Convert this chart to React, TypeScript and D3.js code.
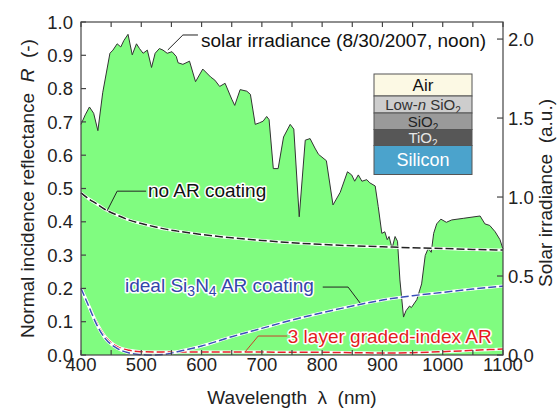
import * as d3 from 'd3'

// solar spectrum (right axis, a.u.)
const SOLAR_NM = [
  400, 407, 414, 421, 428, 436, 448, 453, 460, 466, 471, 478, 485, 492, 497, 503, 510, 517, 523, 530,
  536, 543, 551, 558, 561, 569, 580, 590, 602, 615, 622, 630, 639, 650, 655, 664, 675, 681, 689, 696,
  702, 708, 712, 719, 727, 736, 747, 753, 762, 772, 780, 788, 794, 807, 818, 830, 842, 849, 854, 860,
  866, 874, 879, 888, 893, 899, 904, 908, 911, 916, 921, 925, 929, 935, 939, 945, 948, 957, 965, 971,
  976, 981, 985, 990, 997, 1006, 1015, 1034, 1062, 1070, 1078, 1087, 1095, 1100,
]
const SOLAR_IRR = [
  1.46, 1.52, 1.57, 1.53, 1.42, 1.66, 1.91, 1.93, 1.97, 1.95, 1.99, 2.03, 1.9, 1.97, 1.94, 1.91, 1.93, 1.82, 1.91, 1.94,
  1.93, 1.91, 1.92, 1.89, 1.85, 1.84, 1.86, 1.73, 1.81, 1.76, 1.74, 1.7, 1.72, 1.62, 1.58, 1.68, 1.67, 1.65, 1.46, 1.47,
  1.48, 1.51, 1.49, 1.18, 1.18, 1.38, 1.46, 1.43, 0.875, 1.36, 1.37, 1.31, 1.27, 1.23, 0.95, 1.03, 1.16, 1.14, 1.1, 1.14,
  1.1, 1.11, 1.09, 1.07, 0.94, 0.77, 0.78, 0.73, 0.75, 0.675, 0.75, 0.72, 0.475, 0.24, 0.28, 0.31, 0.3, 0.35, 0.45, 0.63,
  0.675, 0.65, 0.77, 0.83, 0.86, 0.84, 0.855, 0.865, 0.88, 0.83, 0.82, 0.78, 0.73, 0.67,
]

// reflectance curves (left axis)
const REFL_NM = [400, 412, 425, 440, 460, 480, 500, 520, 540, 560, 600, 650, 700, 750, 800, 850, 900, 950, 1000, 1050, 1100]
const NO_AR = [0.487, 0.47, 0.455, 0.437, 0.42, 0.405, 0.395, 0.386, 0.378, 0.372, 0.362, 0.352, 0.344, 0.337, 0.332, 0.328, 0.325, 0.322, 0.32, 0.317, 0.315]
const SI3N4 = [0.2, 0.15, 0.095, 0.05, 0.02, 0.006, 0.001, 0, 0.002, 0.01, 0.027, 0.055, 0.08, 0.105, 0.127, 0.147, 0.165, 0.178, 0.188, 0.198, 0.207]
const GRADED = [0.2, 0.152, 0.1, 0.055, 0.025, 0.014, 0.01, 0.009, 0.009, 0.009, 0.009, 0.009, 0.009, 0.008, 0.008, 0.007, 0.006, 0.007, 0.01, 0.014, 0.018]

const X_TICKS = [400, 500, 600, 700, 800, 900, 1000, 1100]
const Y_TICKS = [0, 0.1, 0.2, 0.3, 0.4, 0.5, 0.6, 0.7, 0.8, 0.9, 1.0]
const Y2_TICKS = [0, 0.5, 1.0, 1.5, 2.0]

const W = 557
const H = 408
const M = { left: 81, right: 54, top: 22, bottom: 53 }
const FONT = '"Liberation Sans", Arial, sans-serif'
const AXIS = '#444'

export default function App() {
  const x = d3.scaleLinear().domain([400, 1100]).range([M.left, W - M.right])
  const y = d3.scaleLinear().domain([0, 1]).range([H - M.bottom, M.top])
  const y2 = d3.scaleLinear().domain([0, 2.108]).range([H - M.bottom, M.top])

  const solar = SOLAR_NM.map((nm, i) => [nm, SOLAR_IRR[i]] as [number, number])
  const area = d3.area<[number, number]>().x((d) => x(d[0])).y0(y2(0)).y1((d) => y2(d[1]))
  const outline = d3.line<[number, number]>().x((d) => x(d[0])).y((d) => y2(d[1]))

  const refl = d3
    .line<[number, number]>()
    .x((d) => x(d[0]))
    .y((d) => y(d[1]))
    .curve(d3.curveMonotoneX)
  const series = [
    { key: 'graded', vals: GRADED, color: '#e8202a' },
    { key: 'si3n4', vals: SI3N4, color: '#3b4fb8' },
    { key: 'noar', vals: NO_AR, color: '#222' },
  ]

  const minorX = d3.range(400, 1101, 50)
  const x0 = M.left
  const x1 = W - M.right
  const yb = H - M.bottom
  const yt = M.top

  const halo = { paintOrder: 'stroke' as const, stroke: '#fff', strokeWidth: 3, strokeLinejoin: 'round' as const }
  const leader = (pts: [number, number][]) =>
    d3.line<[number, number]>().x((d) => x(d[0])).y((d) => y(d[1]))(pts) ?? ''

  const layerTop = 74
  const layers = [
    { h: 22, fill: '#fcf9e4', color: '#111', size: 17, label: <>Air</> },
    { h: 17, fill: '#cdcdcd', color: '#333', size: 15, label: <>Low-<tspan fontStyle="italic">n</tspan> SiO<tspan fontSize={10} dy={4}>2</tspan></> },
    { h: 16.5, fill: '#9a9a9a', color: '#222', size: 15, label: <>SiO<tspan fontSize={10} dy={4}>2</tspan></> },
    { h: 16, fill: '#575757', color: '#e6e6e6', size: 15, label: <>TiO<tspan fontSize={10} dy={4}>2</tspan></> },
    { h: 29, fill: '#4ba3cc', color: '#fff', size: 18, label: <>Silicon</> },
  ]
  let acc = layerTop

  return (
    <div style={{ position: 'fixed', left: 0, top: 0 }}>
      <svg width={W} height={H} style={{ display: 'block', background: '#fff' }} fontFamily={FONT}>
        <path d={area(solar) ?? ''} fill="#80fc80" />
        <path d={outline(solar) ?? ''} fill="none" stroke="#333" strokeWidth={1} />

        {series.map((s) => {
          const pts = REFL_NM.map((nm, i) => [nm, s.vals[i]] as [number, number])
          const d = refl(pts) ?? ''
          return (
            <g key={s.key}>
              <path d={d} fill="none" stroke="#fff" strokeWidth={3} />
              <path d={d} fill="none" stroke={s.color} strokeWidth={1.5} strokeDasharray="8 3" />
            </g>
          )
        })}

        {/* frame and ticks */}
        <rect x={x0} y={yt} width={x1 - x0} height={yb - yt} fill="none" stroke={AXIS} strokeWidth={1.2} />
        {minorX.map((t) => (
          <g key={t} stroke={AXIS} strokeWidth={1.2}>
            <line x1={x(t)} x2={x(t)} y1={yb} y2={yb - 5} />
            <line x1={x(t)} x2={x(t)} y1={yt} y2={yt + 5} />
          </g>
        ))}
        {Y_TICKS.map((t) => (
          <g key={t}>
            <line x1={x0} x2={x0 + 5} y1={y(t)} y2={y(t)} stroke={AXIS} strokeWidth={1.2} />
            <text x={x0 - 8} y={y(t)} dy="0.36em" textAnchor="end" fontSize={18.5} fill="#222">
              {t.toFixed(1)}
            </text>
          </g>
        ))}
        {Y2_TICKS.map((t) => (
          <g key={t}>
            <line x1={x1} x2={x1 - 6} y1={y2(t)} y2={y2(t)} stroke={AXIS} strokeWidth={1.2} />
            <text x={x1 + 5} y={y2(t)} dy="0.36em" textAnchor="start" fontSize={18.5} fill="#222">
              {t.toFixed(1)}
            </text>
          </g>
        ))}
        {X_TICKS.map((t) => (
          <text key={t} x={x(t)} y={371} textAnchor="middle" fontSize={18.5} fill="#222">
            {t}
          </text>
        ))}

        {/* axis titles */}
        <text x={(x0 + x1) / 2} y={404} textAnchor="middle" fontSize={19} fill="#222" xmlSpace="preserve">
          {'Wavelength  λ  (nm)'}
        </text>
        <text
          transform={`translate(34,${(yt + yb) / 2}) rotate(-90)`}
          textAnchor="middle"
          fontSize={19}
          fill="#222"
          xmlSpace="preserve"
        >
          Normal incidence reflectance{'  '}
          <tspan fontStyle="italic">R</tspan>
          {'  (-)'}
        </text>
        <text
          transform={`translate(552,193) rotate(-90)`}
          textAnchor="middle"
          fontSize={19}
          fill="#222"
          xmlSpace="preserve"
        >
          {'Solar irradiance  (a.u.)'}
        </text>

        {/* annotations */}
        <path d={leader([[594, 0.961], [569, 0.961], [544, 0.916]])} fill="none" stroke="#222" strokeWidth={1} />
        <text x={x(599)} y={y(0.925)} fontSize={19} fill="#111">
          solar irradiance (8/30/2007, noon)
        </text>

        <path d={leader([[508, 0.492], [460, 0.492], [443, 0.432]])} fill="none" stroke="#222" strokeWidth={1} />
        <text x={x(511)} y={y(0.474)} fontSize={19} fill="#111" style={halo}>
          no AR coating
        </text>

        <path d={leader([[801, 0.204], [843, 0.204], [863, 0.156]])} fill="none" stroke="#222" strokeWidth={1} />
        <text x={x(473)} y={y(0.189)} fontSize={19} fill="#3344aa" style={halo}>
          ideal Si<tspan fontSize={14} dy={4}>3</tspan>
          <tspan dy={-4}>N</tspan>
          <tspan fontSize={14} dy={4}>4</tspan>
          <tspan dy={-4}> AR coating</tspan>
        </text>

        <path d={leader([[742, 0.057], [694, 0.057], [672, 0.009]])} fill="none" stroke="#c8402a" strokeWidth={1} />
        <text x={x(743)} y={y(0.035)} fontSize={19} fill="#e41a1c" style={halo}>
          3 layer graded-index AR
        </text>

        {/* layer stack inset */}
        <g>
          {layers.map((l, i) => {
            const top = acc
            acc += l.h
            return (
              <g key={i}>
                <rect x={374} y={top} width={98} height={l.h} fill={l.fill} stroke="#555" strokeWidth={1} />
                <text x={423} y={top + l.h / 2} dy="0.36em" textAnchor="middle" fontSize={l.size} fill={l.color}>
                  {l.label}
                </text>
              </g>
            )
          })}
        </g>
      </svg>
    </div>
  )
}
